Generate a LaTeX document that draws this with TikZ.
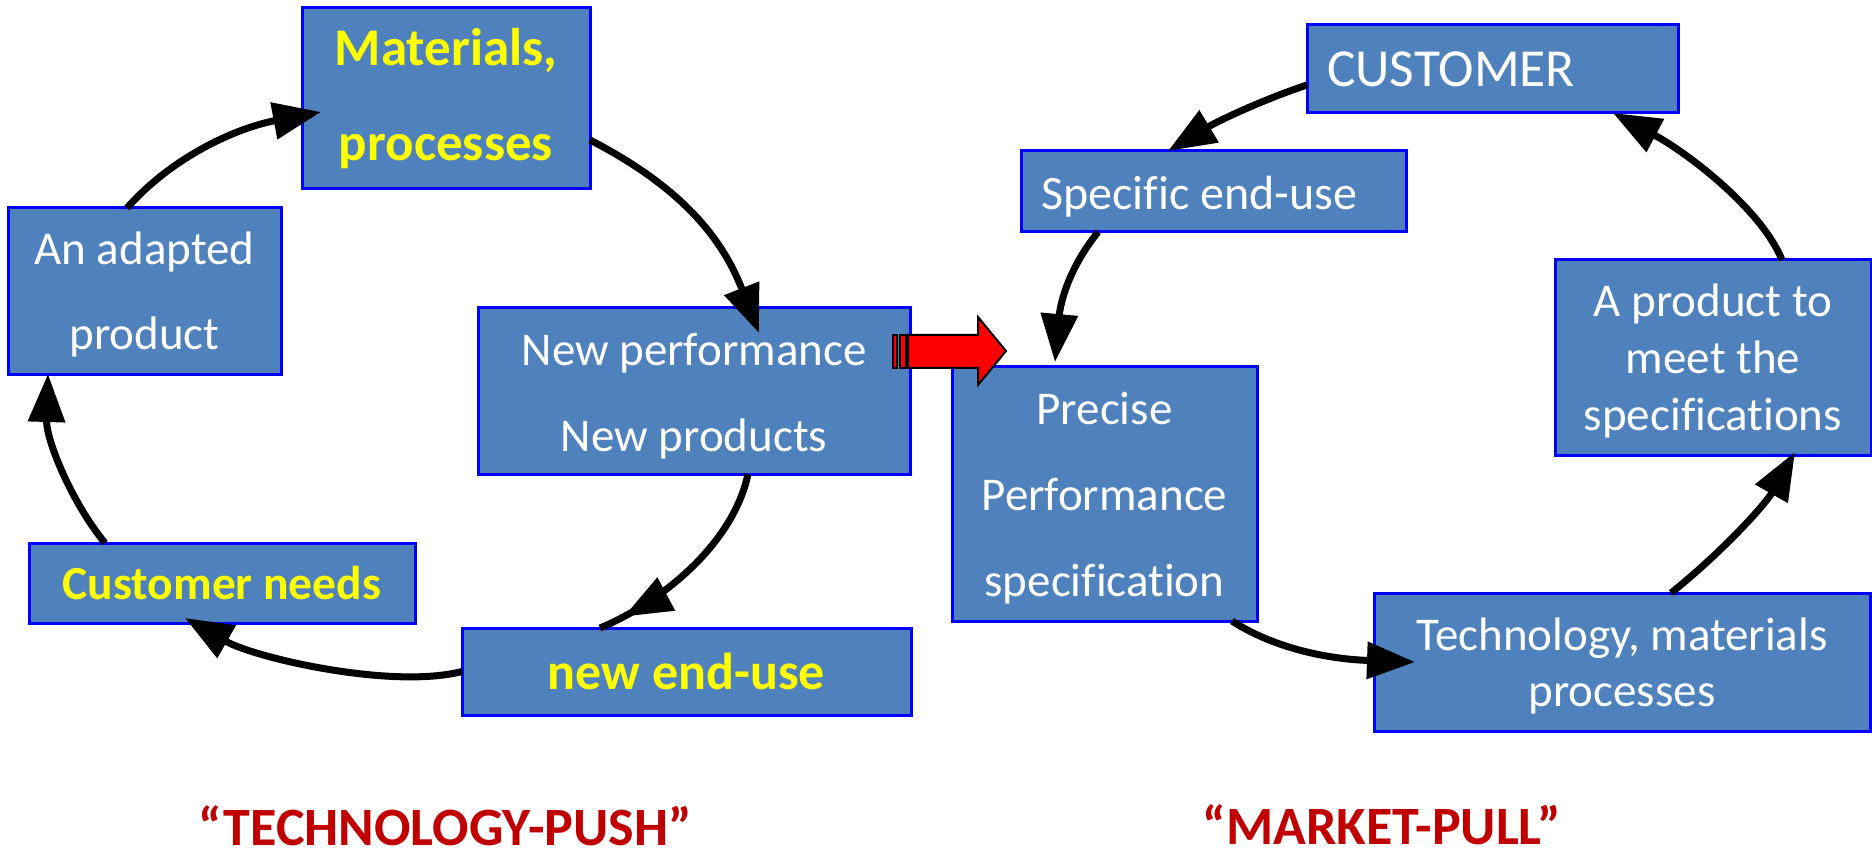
\documentclass[tikz,border=0pt]{standalone}
\usepackage{fontspec}
\setmainfont{Carlito}[Ligatures={TeX,NoCommon}]
\usetikzlibrary{arrows.meta,calc,decorations.markings}
\definecolor{boxblue}{RGB}{79,129,189}
\definecolor{edgeblue}{RGB}{0,0,255}
\definecolor{hiyellow}{RGB}{255,255,0}
\definecolor{titlered}{RGB}{192,0,0}
\definecolor{arrowred}{RGB}{255,0,0}
% invisible strut that lowers a text block inside its box
\newcommand\boxstrut[1]{\rule{0pt}{#1}}

\begin{document}
\begin{tikzpicture}[x=1pt,y=-1pt,
  box/.style={draw=edgeblue, line width=3pt, fill=boxblue, text=white,
    inner sep=0pt, outer sep=0pt, align=center},
  hibox/.style={box, text=hiyellow},
  flow/.style={draw=black, line width=7pt, -{Triangle[length=48pt,width=36pt]}},
  midflow/.style={draw=black, line width=7pt, postaction={decorate},
    decoration={markings, mark=at position #1 with {\arrow{Triangle[length=48pt,width=36pt]}}}},
  heading/.style={text=titlered, inner sep=0pt, font=\fontsize{54}{64}\selectfont\bfseries}
]
\useasboundingbox (0,0) rectangle (1872,850);
\fill[white] (0,0) rectangle (1872,850);

% technology-push cycle
\node[hibox, minimum width=288pt, minimum height=181pt,
  font=\fontsize{53}{95}\selectfont\bfseries] (mat) at (446,98.5) {Materials,\\processes};
\node[box, minimum width=273pt, minimum height=166pt,
  font=\fontsize{47}{85}\selectfont] (adapt) at (144.5,291) {\boxstrut{40pt}An adapted\\product};
\node[box, minimum width=432pt, minimum height=166pt,
  font=\fontsize{47}{86}\selectfont] (newperf) at (694,391) {\boxstrut{42pt}New performance\\New products};
\node[hibox, minimum width=386pt, minimum height=80pt,
  font=\fontsize{47.5}{57}\selectfont\bfseries] (custneeds) at (222,583) {Customer needs};
\node[hibox, minimum width=449pt, minimum height=87pt,
  font=\fontsize{52}{62}\selectfont\bfseries] (newend) at (686.5,671.5) {new end-use};

% market-pull cycle
\node[box, text width=331pt, inner xsep=20pt, align=flush left, minimum height=88pt,
  font=\fontsize{53.5}{60}\selectfont] (customer) at (1492.5,69) {CUSTOMER};
\node[box, text width=345pt, inner xsep=20pt, align=flush left, minimum height=81pt,
  font=\fontsize{48}{58}\selectfont] (specific) at (1213.5,191.5) {\boxstrut{43pt}Specific end-use};
\node[box, minimum width=305pt, minimum height=254pt,
  font=\fontsize{47}{86}\selectfont] (precise) at (1104.5,494) {\boxstrut{41pt}Precise\\Performance\\specification};
\node[box, minimum width=316pt, minimum height=195pt,
  font=\fontsize{47}{57}\selectfont] (aprod) at (1713,357.5) {\boxstrut{39pt}A product to\\meet the\\specifications};
\node[box, minimum width=496pt, minimum height=138pt,
  font=\fontsize{47}{56}\selectfont] (techmat) at (1622,662) {\boxstrut{41pt}Technology, materials\\processes};

% connectors, left cycle
\draw[flow] ($(mat.east)+(0,41.5)$) .. controls +(97,50) and +(-35,-90) .. ($(newperf.north)+(65,25)$);
\draw[midflow=0.88] ($(newperf.south)+(54,0)$) .. controls +(-15,71) and +(60,-25) .. ($(newend.north)+(-86.5,0)$);
\draw[flow] (newend.west) .. controls +(-70,18) and +(70,40) .. ($(custneeds.south)+(-37,-5)$);
\draw[flow] ($(custneeds.north)+(-117,0)$) .. controls +(-33,-40) and +(-2,66) .. ($(adapt.south)+(-96.5,0)$);
\draw[flow] ($(adapt.north)+(-17.5,0)$) .. controls +(45,-51) and +(-85,16) .. ($(mat.west)+(19,13.5)$);

% connectors, right cycle
\draw[flow] ($(customer.west)+(0,16)$) .. controls +(-45,15) and +(50,-30) .. ($(specific.north)+(-45.5,0)$);
\draw[flow] ($(specific.south)+(-115.5,0)$) .. controls +(-32,40) and +(5,-55) .. ($(precise.north)+(-49.5,-5)$);
\draw[flow] ($(precise.south)+(127.5,0)$) .. controls +(40,26) and +(-90,-3) .. ($(techmat.west)+(41,0)$);
\draw[flow] ($(techmat.north)+(49,0)$) .. controls +(50,-40) and +(-30,53) .. ($(aprod.south)+(82,-3)$);
\draw[flow] ($(aprod.north)+(69,0)$) .. controls +(-20,-50) and +(75,40) .. ($(customer.south)+(120.5,0)$);

% striped block arrow between the two cycles
\begin{scope}[draw=black, fill=arrowred, line width=2pt, line join=miter]
  \filldraw (893,335) rectangle (897,368);
  \filldraw (900,335) rectangle (906,368);
  \filldraw (908,335) -- (978,335) -- (978,317) -- (1006,351) -- (978,385)
    -- (978,368) -- (908,368) -- cycle;
\end{scope}

% titles
\node[heading] (tpush) at (445,826) {“TECHNOLOGY-PUSH”};
\node[heading] (mpull) at (1382,825) {“MARKET-PULL”};
\end{tikzpicture}
\end{document}
